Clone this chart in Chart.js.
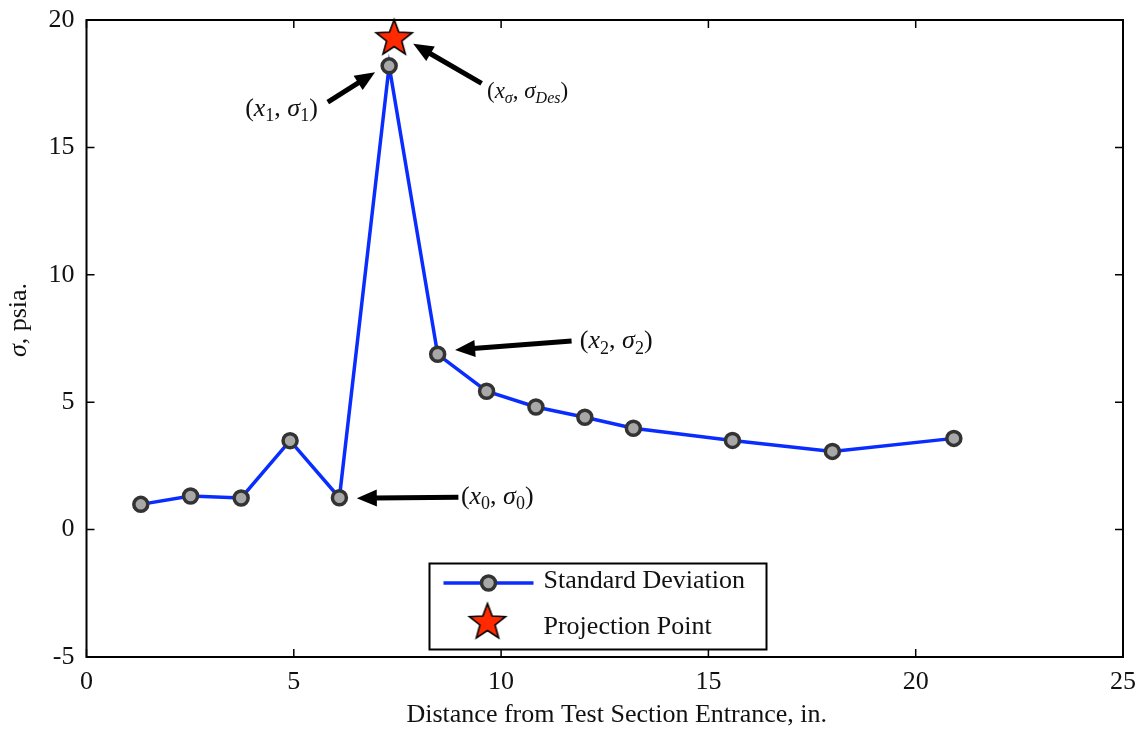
<!DOCTYPE html>
<html>
<head>
<meta charset="utf-8">
<script src="https://cdn.jsdelivr.net/npm/chart.js@4/dist/chart.umd.min.js"></script>
<style>
  html, body { margin: 0; padding: 0; background: #fff; }
  #wrap { width: 1144px; height: 730px; }
</style>
</head>
<body>
<div id="wrap"><canvas id="plot" width="1144" height="730"></canvas></div>
<script>
// measured positions along the test section (in.) and standard deviation (psia)
const xPos = [1.31, 2.51, 3.73, 4.91, 6.10, 7.30, 8.47, 9.65, 10.84, 12.02, 13.19, 15.58, 17.99, 20.92];
const sigma = [0.99, 1.32, 1.24, 3.49, 1.25, 18.2, 6.88, 5.43, 4.81, 4.41, 3.98, 3.50, 3.07, 3.58];
const projX = [7.42];
const projSigma = [19.33];
const xTicks = [0, 5, 10, 15, 20, 25];
const yTicks = [-5, 0, 5, 10, 15, 20];

const serif = '"Liberation Serif", "Times New Roman", serif';

// callouts: tail/tip of arrow and label anchor, all in data units
const callouts = [
  { text: [['(', 'n'], ['x', 'i'], ['1', 's'], [', ', 'n'], ['σ', 'i'], ['1', 's'], [')', 'n']],
    size: 26, lx: 5.58, ly: 16.55, align: 'right', tail: [5.82, 16.78], tip: [6.96, 17.95] },
  { text: [['(', 'n'], ['x', 'i'], ['σ', 'si'], [', ', 'n'], ['σ', 'i'], ['Des', 'si'], [')', 'n']],
    size: 23, lx: 9.66, ly: 17.21, align: 'left', tail: [9.53, 17.51], tip: [7.88, 19.07] },
  { text: [['(', 'n'], ['x', 'i'], ['2', 's'], [', ', 'n'], ['σ', 'i'], ['2', 's'], [')', 'n']],
    size: 26, lx: 11.90, ly: 7.43, align: 'left', tail: [11.70, 7.40], tip: [8.89, 7.05] },
  { text: [['(', 'n'], ['x', 'i'], ['0', 's'], [', ', 'n'], ['σ', 'i'], ['0', 's'], [')', 'n']],
    size: 26, lx: 9.03, ly: 1.33, align: 'left', tail: [8.97, 1.27], tip: [6.52, 1.23] }
];

function makeStar(r) {
  const c = document.createElement('canvas');
  const s = Math.ceil(r * 2 + 4);
  c.width = s; c.height = s;
  const g = c.getContext('2d');
  const cx = s / 2, cy = s / 2 + 1.5;
  g.beginPath();
  for (let i = 0; i < 10; i++) {
    const rad = i % 2 === 0 ? r : r * 0.42;
    const a = -Math.PI / 2 + i * Math.PI / 5;
    const px = cx + rad * Math.cos(a), py = cy + rad * Math.sin(a);
    if (i === 0) g.moveTo(px, py); else g.lineTo(px, py);
  }
  g.closePath();
  g.fillStyle = '#ff2a00';
  g.fill();
  g.lineWidth = 1.6;
  g.strokeStyle = '#000';
  g.stroke();
  return c;
}
const starImg = makeStar(19);

function fontFor(kind, size) {
  const small = kind === 's' || kind === 'si';
  const italic = kind === 'i' || kind === 'si';
  const sz = small ? Math.round(size * 0.7) : size;
  return (italic ? 'italic ' : '') + sz + 'px ' + serif;
}

function drawMath(ctx, parts, x, y, size, align) {
  let w = 0;
  parts.forEach(p => { ctx.font = fontFor(p[1], size); w += ctx.measureText(p[0]).width; });
  let cx = align === 'right' ? x - w : x;
  ctx.textBaseline = 'alphabetic';
  ctx.textAlign = 'left';
  ctx.fillStyle = '#111';
  const base = y + size * 0.3;
  parts.forEach(p => {
    ctx.font = fontFor(p[1], size);
    const dy = (p[1] === 's' || p[1] === 'si') ? size * 0.22 : 0;
    ctx.fillText(p[0], cx, base + dy);
    cx += ctx.measureText(p[0]).width;
  });
}

function drawArrow(ctx, x0, y0, x1, y1) {
  const ang = Math.atan2(y1 - y0, x1 - x0);
  const hl = 20, hw = 8.5;
  const bx = x1 - hl * Math.cos(ang), by = y1 - hl * Math.sin(ang);
  ctx.strokeStyle = '#000';
  ctx.lineWidth = 5;
  ctx.lineCap = 'butt';
  ctx.beginPath();
  ctx.moveTo(x0, y0);
  ctx.lineTo(bx + 2 * Math.cos(ang), by + 2 * Math.sin(ang));
  ctx.stroke();
  ctx.fillStyle = '#000';
  ctx.beginPath();
  ctx.moveTo(x1, y1);
  ctx.lineTo(bx + hw * Math.sin(ang), by - hw * Math.cos(ang));
  ctx.lineTo(bx - hw * Math.sin(ang), by + hw * Math.cos(ang));
  ctx.closePath();
  ctx.fill();
}

const framePlugin = {
  id: 'frame',
  beforeDatasetsDraw(chart) {
    const { ctx, chartArea: a, scales } = chart;
    ctx.save();
    ctx.strokeStyle = '#000';
    ctx.lineWidth = 2;
    ctx.strokeRect(a.left, a.top, a.right - a.left, a.bottom - a.top);
    ctx.lineWidth = 1.5;
    ctx.beginPath();
    xTicks.forEach(v => {
      const px = scales.x.getPixelForValue(v);
      ctx.moveTo(px, a.bottom); ctx.lineTo(px, a.bottom - 8);
      ctx.moveTo(px, a.top); ctx.lineTo(px, a.top + 8);
    });
    yTicks.forEach(v => {
      const py = scales.y.getPixelForValue(v);
      ctx.moveTo(a.left, py); ctx.lineTo(a.left + 8, py);
      ctx.moveTo(a.right, py); ctx.lineTo(a.right - 8, py);
    });
    ctx.stroke();

    // axis titles
    ctx.fillStyle = '#111';
    ctx.font = '26px ' + serif;
    ctx.textAlign = 'center';
    ctx.textBaseline = 'middle';
    ctx.fillText('Distance from Test Section Entrance, in.', (a.left + a.right) / 2 + 12, 715);
    ctx.translate(19, 320);
    ctx.rotate(-Math.PI / 2);
    ctx.font = 'italic 26px ' + serif;
    const s1 = ctx.measureText('σ').width;
    ctx.font = '26px ' + serif;
    const s2 = ctx.measureText(', psia.').width;
    ctx.textAlign = 'left';
    ctx.font = 'italic 26px ' + serif;
    ctx.fillText('σ', -(s1 + s2) / 2, 0);
    ctx.font = '26px ' + serif;
    ctx.fillText(', psia.', -(s1 + s2) / 2 + s1, 0);
    ctx.restore();
  },
  afterDraw(chart) {
    const { ctx, scales } = chart;
    const X = v => scales.x.getPixelForValue(v);
    const Y = v => scales.y.getPixelForValue(v);
    ctx.save();
    callouts.forEach(c => {
      drawArrow(ctx, X(c.tail[0]), Y(c.tail[1]), X(c.tip[0]), Y(c.tip[1]));
      drawMath(ctx, c.text, X(c.lx), Y(c.ly), c.size, c.align);
    });

    // legend box
    const lx = 429.5, ly = 563.5, lw = 337, lh = 86;
    ctx.fillStyle = '#fff';
    ctx.fillRect(lx, ly, lw, lh);
    ctx.strokeStyle = '#000';
    ctx.lineWidth = 2;
    ctx.strokeRect(lx, ly, lw, lh);
    const ds = chart.data.datasets[0];
    ctx.strokeStyle = ds.borderColor;
    ctx.lineWidth = ds.borderWidth;
    ctx.beginPath();
    ctx.moveTo(lx + 14, 583); ctx.lineTo(lx + 104, 583);
    ctx.stroke();
    ctx.beginPath();
    ctx.arc(lx + 59, 583, ds.pointRadius, 0, Math.PI * 2);
    ctx.fillStyle = ds.pointBackgroundColor;
    ctx.fill();
    ctx.lineWidth = ds.pointBorderWidth;
    ctx.strokeStyle = ds.pointBorderColor;
    ctx.stroke();
    ctx.drawImage(starImg, lx + 58 - starImg.width / 2, 621 - starImg.height / 2);
    ctx.fillStyle = '#111';
    ctx.font = '26px ' + serif;
    ctx.textAlign = 'left';
    ctx.textBaseline = 'middle';
    ctx.fillText(ds.label, lx + 114, 581);
    ctx.fillText(chart.data.datasets[1].label, lx + 114, 627);
    ctx.restore();
  }
};

new Chart(document.getElementById('plot'), {
  type: 'line',
  data: {
    datasets: [
      {
        label: 'Standard Deviation',
        data: xPos.map((x, i) => ({ x: x, y: sigma[i] })),
        borderColor: '#0a2dff',
        borderWidth: 3.5,
        pointRadius: 7,
        pointHoverRadius: 7,
        pointBackgroundColor: '#a8a8a8',
        pointBorderColor: '#333333',
        pointBorderWidth: 3.5,
        tension: 0,
        clip: false
      },
      {
        label: 'Projection Point',
        data: projX.map((x, i) => ({ x: x, y: projSigma[i] })),
        showLine: false,
        pointStyle: starImg,
        pointRadius: 19,
        clip: false
      }
    ]
  },
  options: {
    responsive: false,
    animation: false,
    devicePixelRatio: 1,
    layout: { padding: { left: 0, top: 13.5, right: 21, bottom: 0 } },
    plugins: { legend: { display: false }, tooltip: { enabled: false } },
    scales: {
      x: {
        type: 'linear',
        min: 0, max: 25,
        afterBuildTicks: s => { s.ticks = xTicks.map(v => ({ value: v })); },
        afterFit: s => { s.height = 73; s.paddingLeft = 0; s.paddingRight = 0; },
        grid: { display: false, drawTicks: false },
        border: { display: false },
        ticks: { padding: 10, color: '#111', font: { family: serif, size: 26 } }
      },
      y: {
        type: 'linear',
        min: -5, max: 20,
        afterBuildTicks: s => { s.ticks = yTicks.map(v => ({ value: v })); },
        afterFit: s => { s.width = 86.5; s.paddingTop = 0; s.paddingBottom = 0; },
        grid: { display: false, drawTicks: false },
        border: { display: false },
        ticks: { padding: 12, color: '#111', font: { family: serif, size: 26 } }
      }
    }
  },
  plugins: [framePlugin]
});
</script>
</body>
</html>
